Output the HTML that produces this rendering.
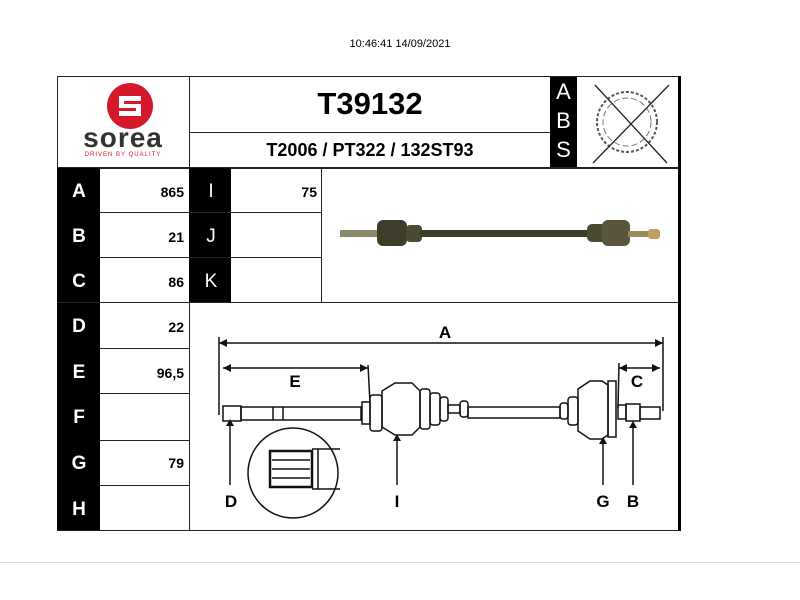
<!DOCTYPE html>
<html><head><style>
body{margin:0;width:800px;height:600px;background:#fff;position:relative;font-family:"Liberation Sans",sans-serif;overflow:hidden}
.a{position:absolute}
.blk{position:absolute;background:#000;color:#fff;font-weight:bold;font-size:19px;text-align:center}
.v{position:absolute;font-weight:bold;font-size:14px;text-align:right}
.hl{position:absolute;height:1px;background:#222}
.vl{position:absolute;width:1px;background:#222}
</style></head><body>
<div class="a" style="left:0;top:38px;width:800px;text-align:center;font-size:11px">10:46:41 14/09/2021</div>
<div class="a" style="left:0;top:562px;width:800px;height:1px;background:#ddd"></div>
<div class="a" style="left:57px;top:76px;width:621px;height:455px;border:1.5px solid #222;border-right:3px solid #000;box-sizing:border-box;width:624px"></div>
<!-- header lines -->
<div class="vl" style="left:189px;top:76px;height:455px"></div>
<div class="hl" style="left:57px;top:167px;width:622px;height:2px"></div>
<div class="hl" style="left:190px;top:132px;width:360px"></div>
<div class="blk" style="left:550px;top:77px;width:27px;height:90px;font-weight:normal;font-size:22px;line-height:29px">A<br>B<br>S</div>
<!-- logo -->
<svg class="a" style="left:100px;top:82px" width="60" height="50"><circle cx="30" cy="24" r="23" fill="#d6192a"/>
<path d="M19 14h22v5H24v3h17v12H19v-5h17v-3H19z" fill="#fff"/></svg>
<div class="a" style="left:57px;top:122px;width:132px;text-align:center;font-size:28px;font-weight:bold;color:#333;letter-spacing:1px">sorea</div>
<div class="a" style="left:57px;top:152px;width:132px;text-align:center;font-size:6px;color:#d6192a;letter-spacing:1px">DRIVEN BY QUALITY</div>
<div class="a" style="left:190px;top:86px;width:360px;text-align:center;font-size:31px;font-weight:bold">T39132</div>
<div class="a" style="left:190px;top:140px;width:360px;text-align:center;font-size:18px;font-weight:bold">T2006 / PT322 / 132ST93</div>
<svg class="a" style="left:577px;top:77px" width="101" height="90">
<circle cx="50" cy="45" r="30" fill="none" stroke="#555" stroke-dasharray="3 2" stroke-width="2"/>
<circle cx="50" cy="45" r="24" fill="none" stroke="#777" stroke-dasharray="6 3"/>
<line x1="18" y1="8" x2="90" y2="86" stroke="#222" stroke-width="1.3"/><line x1="92" y1="8" x2="16" y2="86" stroke="#222" stroke-width="1.3"/></svg>
<!-- left table -->
<div class="blk" style="left:57px;top:168px;width:43px;height:362px"></div>
<div class="blk" style="left:189px;top:168px;width:42px;height:134px"></div>
<div class="blk" style="left:64px;top:181px;width:30px">A</div><div class="v" style="left:100px;top:184px;width:84px">865</div>
<div class="blk" style="left:64px;top:226px;width:30px">B</div><div class="v" style="left:100px;top:229px;width:84px">21</div>
<div class="blk" style="left:64px;top:271px;width:30px">C</div><div class="v" style="left:100px;top:274px;width:84px">86</div>
<div class="blk" style="left:64px;top:316px;width:30px">D</div><div class="v" style="left:100px;top:319px;width:84px">22</div>
<div class="blk" style="left:64px;top:362px;width:30px">E</div><div class="v" style="left:100px;top:365px;width:84px">96,5</div>
<div class="blk" style="left:64px;top:407px;width:30px">F</div>
<div class="blk" style="left:64px;top:453px;width:30px">G</div><div class="v" style="left:100px;top:455px;width:84px">79</div>
<div class="blk" style="left:64px;top:499px;width:30px">H</div>
<div class="blk" style="left:196px;top:181px;width:30px;font-weight:normal">I</div><div class="v" style="left:232px;top:184px;width:85px">75</div>
<div class="blk" style="left:196px;top:226px;width:30px;font-weight:normal">J</div>
<div class="blk" style="left:196px;top:271px;width:30px;font-weight:normal">K</div>
<div class="hl" style="left:100px;top:212px;width:222px"></div>
<div class="hl" style="left:100px;top:257px;width:222px"></div>
<div class="hl" style="left:57px;top:302px;width:622px"></div>
<div class="hl" style="left:100px;top:348px;width:89px"></div>
<div class="hl" style="left:100px;top:393px;width:89px"></div>
<div class="hl" style="left:100px;top:440px;width:89px"></div>
<div class="hl" style="left:100px;top:485px;width:89px"></div>
<div class="vl" style="left:321px;top:168px;height:134px"></div>
<!-- photo -->
<svg class="a" style="left:322px;top:168px" width="356" height="134">
<rect x="18" y="62" width="50" height="7" fill="#8a8a6a"/>
<rect x="55" y="52" width="30" height="26" rx="6" fill="#3d3d2a"/>
<rect x="84" y="57" width="16" height="17" rx="4" fill="#4a4a33"/>
<rect x="98" y="62" width="170" height="7" fill="#3b3d28"/>
<rect x="265" y="56" width="20" height="18" rx="5" fill="#4a4a33"/>
<rect x="280" y="52" width="28" height="26" rx="6" fill="#5a563c"/>
<rect x="306" y="63" width="22" height="6" fill="#9a8a5a"/>
<rect x="326" y="61" width="12" height="10" rx="3" fill="#c0a060"/>
</svg>
<!-- diagram -->
<svg class="a" style="left:190px;top:303px" width="488" height="227" font-family="Liberation Sans" font-weight="bold" font-size="17">
<g stroke="#111" stroke-width="1.5" fill="none">
<line x1="29" y1="40" x2="473" y2="40"/><line x1="29" y1="34" x2="29" y2="112"/><line x1="473" y1="34" x2="473" y2="108"/>
<line x1="33" y1="65" x2="178" y2="65"/><line x1="178" y1="62" x2="180" y2="100"/>
<line x1="429" y1="65" x2="470" y2="65"/><line x1="429" y1="60" x2="428" y2="105"/>
<rect x="33" y="103" width="18" height="15"/><rect x="51" y="104" width="120" height="13"/><line x1="83" y1="104" x2="83" y2="117"/><line x1="93" y1="104" x2="93" y2="117"/>
<rect x="172" y="99" width="8" height="22"/><rect x="180" y="92" width="12" height="36" rx="3"/>
<path d="M192 88 L205 80 H222 L230 88 V124 L222 132 H205 L192 124Z"/>
<rect x="230" y="86" width="10" height="40" rx="3"/><rect x="240" y="90" width="10" height="32" rx="3"/><rect x="250" y="94" width="8" height="24" rx="3"/>
<rect x="258" y="102" width="12" height="8"/><rect x="270" y="98" width="8" height="16" rx="3"/>
<rect x="278" y="104" width="92" height="11"/>
<rect x="370" y="100" width="8" height="16" rx="3"/><rect x="378" y="94" width="10" height="28" rx="3"/>
<path d="M388 86 L400 78 H412 L418 82 V132 L412 136 H400 L388 128Z"/>
<rect x="418" y="78" width="8" height="56"/>
<rect x="428" y="102" width="8" height="14"/><rect x="436" y="101" width="14" height="17"/><rect x="450" y="104" width="20" height="12"/>
<line x1="40" y1="118" x2="40" y2="182"/><line x1="207" y1="133" x2="207" y2="182"/><line x1="413" y1="136" x2="413" y2="182"/><line x1="443" y1="120" x2="443" y2="182"/>
<circle cx="103" cy="170" r="45"/>
<rect x="80" y="148" width="42" height="36" stroke-width="2.5"/><line x1="122" y1="146" x2="150" y2="146"/><line x1="122" y1="186" x2="150" y2="186"/><line x1="128" y1="146" x2="128" y2="186"/>
<line x1="82" y1="157" x2="120" y2="157"/><line x1="82" y1="166" x2="120" y2="166"/><line x1="82" y1="175" x2="120" y2="175"/>
</g>
<g fill="#111"><path d="M29 40 l8 -4 v8z"/><path d="M473 40 l-8 -4 v8z"/><path d="M33 65 l8 -4 v8z"/><path d="M178 65 l-8 -4 v8z"/><path d="M429 65 l8 -4 v8z"/><path d="M470 65 l-8 -4 v8z"/>
<path d="M40 116 l-4 7 h8z"/><path d="M207 131 l-4 7 h8z"/><path d="M413 134 l-4 7 h8z"/><path d="M443 118 l-4 7 h8z"/></g>
<text x="255" y="35" text-anchor="middle">A</text><text x="105" y="84" text-anchor="middle">E</text><text x="447" y="84" text-anchor="middle">C</text>
<text x="41" y="204" text-anchor="middle">D</text><text x="207" y="204" text-anchor="middle">I</text><text x="413" y="204" text-anchor="middle">G</text><text x="443" y="204" text-anchor="middle">B</text>
</svg>
</body></html>
